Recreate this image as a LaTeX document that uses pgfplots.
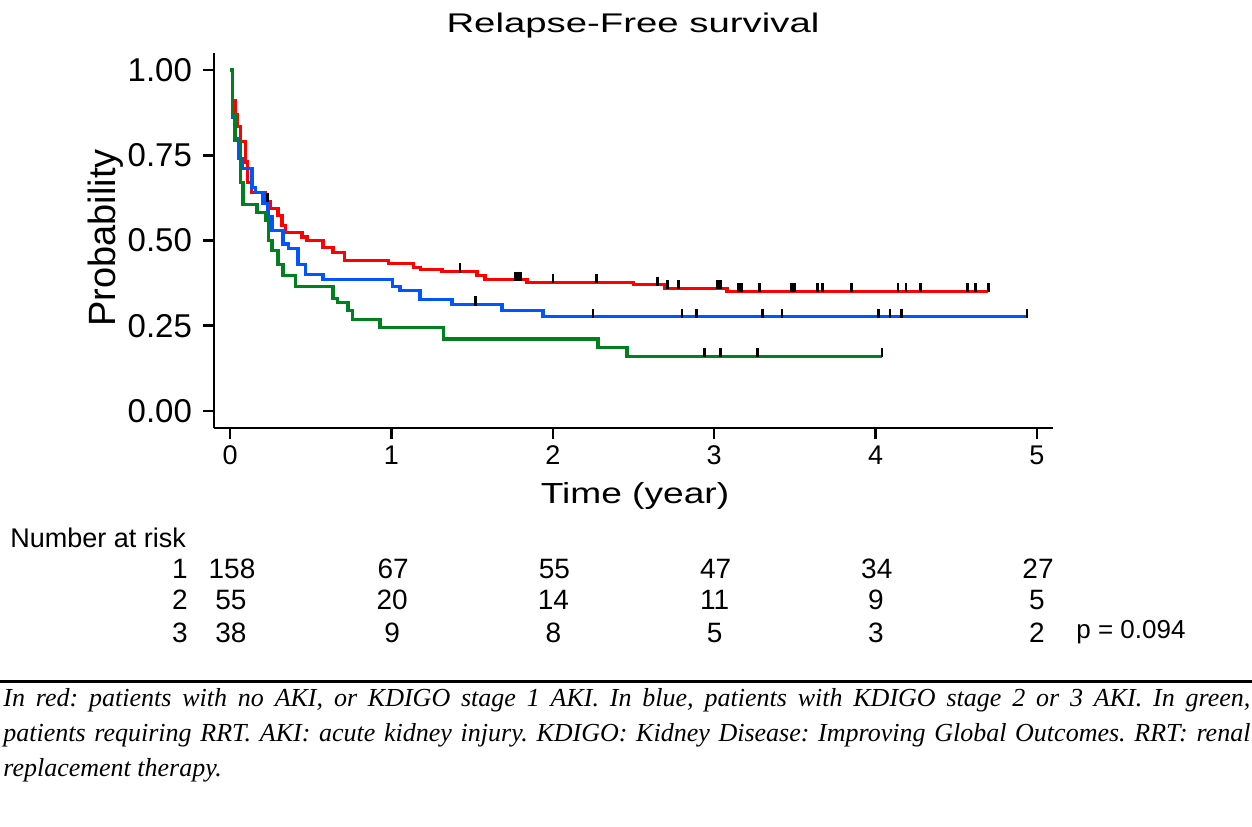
\documentclass[border=0pt]{standalone}
\usepackage{fontspec}
\setmainfont{Liberation Sans}
\newfontfamily\capfont{Liberation Serif}
\usepackage{pgfplots}
\usepackage{pgfplotstable}
\pgfplotsset{compat=1.18}
\frenchspacing

\definecolor{kmred}{RGB}{255,0,0}
\definecolor{kmblue}{RGB}{0,85,255}
\definecolor{kmgreen}{RGB}{0,128,30}

% Kaplan-Meier steps (time in years, survival probability)
\pgfplotstableread{
t p
0 1.0
0.016 0.91
0.031 0.87
0.046 0.834
0.062 0.79
0.093 0.73
0.11 0.67
0.13 0.64
0.217 0.615
0.25 0.595
0.297 0.573
0.322 0.544
0.341 0.524
0.446 0.51
0.476 0.50
0.576 0.48
0.638 0.465
0.71 0.441
0.98 0.432
1.136 0.42
1.18 0.415
1.313 0.409
1.53 0.397
1.58 0.385
1.84 0.377
2.50 0.370
2.695 0.360
3.08 0.351
4.70 0.351
}\redsteps

\pgfplotstableread{
t p
0.23 0.615
1.425 0.409
1.77 0.385
1.78 0.385
1.80 0.385
2.00 0.377
2.27 0.377
2.65 0.370
2.71 0.360
2.78 0.360
3.02 0.360
3.04 0.360
3.15 0.351
3.17 0.351
3.28 0.351
3.48 0.351
3.49 0.351
3.50 0.351
3.64 0.351
3.67 0.351
3.85 0.351
4.14 0.351
4.19 0.351
4.28 0.351
4.57 0.351
4.62 0.351
4.70 0.351
}\redcens

\pgfplotstableread{
t p
0 1.0
0.016 0.86
0.03 0.80
0.05 0.74
0.074 0.712
0.136 0.655
0.155 0.64
0.204 0.61
0.235 0.57
0.26 0.53
0.328 0.49
0.36 0.476
0.421 0.43
0.465 0.40
0.576 0.385
1.004 0.365
1.053 0.353
1.177 0.328
1.375 0.312
1.685 0.294
1.939 0.276
4.94 0.276
}\bluesteps

\pgfplotstableread{
t p
1.52 0.312
2.25 0.276
2.80 0.276
2.89 0.276
3.30 0.276
3.42 0.276
4.02 0.276
4.09 0.276
4.16 0.276
4.94 0.276
}\bluecens

\pgfplotstableread{
t p
0 1.0
0.017 0.87
0.03 0.794
0.062 0.67
0.08 0.606
0.167 0.583
0.217 0.56
0.236 0.50
0.26 0.47
0.297 0.43
0.328 0.397
0.403 0.366
0.638 0.33
0.665 0.318
0.731 0.295
0.76 0.268
0.929 0.244
1.32 0.211
2.28 0.186
2.46 0.160
4.04 0.160
}\greensteps

\pgfplotstableread{
t p
2.94 0.16
3.04 0.16
3.27 0.16
4.04 0.16
}\greencens

\begin{document}
\begin{tikzpicture}
\useasboundingbox (0pt,0pt) rectangle (626pt,413pt);

\begin{axis}[
    at={(107pt,199pt)}, anchor=south west,
    scale only axis, width=419.5pt, height=187.5pt,
    xmin=-0.1, xmax=5.1, ymin=-0.05, ymax=1.05,
    axis lines*=left, axis line style={-, line width=1.3pt},
    xtick={0,1,2,3,4,5},
    ytick={0,0.25,0.5,0.75,1},
    yticklabels={0.00,0.25,0.50,0.75,1.00},
    tick align=outside, major tick length=5.5pt,
    tick style={black, line width=1.3pt},
    xticklabel style={font=\fontsize{13.5}{16}\selectfont},
    yticklabel style={font=\fontsize{16.5}{19}\selectfont, xshift=-2pt},
    /pgf/number format/assume math mode=true,
    clip=false,
    km/.style={const plot, line width=1.6pt},
    censor/.style={only marks, mark=|, black, mark size=2.3pt,
        mark options={line width=1.3pt, yshift=1.8pt}},
]
\addplot[km, kmred] table {\redsteps};
\addplot[km, kmblue] table {\bluesteps};
\addplot[km, kmgreen] table {\greensteps};
\addplot[censor] table {\redcens};
\addplot[censor] table {\bluecens};
\addplot[censor] table {\greencens};
\end{axis}

\begin{scope}[x=0.5pt,y=0.5pt]
\node[anchor=base, xscale=1.42, inner sep=0pt, font=\fontsize{13.5}{16}\selectfont] at (633,793) {Relapse-Free survival};
\node[anchor=base, xscale=1.28, inner sep=0pt, font=\fontsize{14.5}{17}\selectfont] at (635,323) {Time (year)};
\node[anchor=base, rotate=90, inner sep=0pt, font=\fontsize{19}{21}\selectfont] at (115,588) {Probability};

% number at risk
\begin{scope}[font=\fontsize{14}{16}\selectfont]
\node[anchor=base west, inner sep=0pt, font=\fontsize{13.5}{16}\selectfont] at (10,279) {Number at risk};
\node[anchor=base east, inner sep=0pt] at (188,248) {1};
\node[anchor=base east, inner sep=0pt] at (188,217) {2};
\node[anchor=base east, inner sep=0pt] at (188,184) {3};
\foreach \n [count=\i from 0] in {158,67,55,47,34,27}
  \node[anchor=base, inner sep=0pt] at ({232+161.2*\i},248) {\n};
\foreach \n [count=\i from 0] in {55,20,14,11,9,5}
  \node[anchor=base, inner sep=0pt] at ({231+161.2*\i},217) {\n};
\foreach \n [count=\i from 0] in {38,9,8,5,3,2}
  \node[anchor=base, inner sep=0pt] at ({231+161.2*\i},184) {\n};
\node[anchor=base west, inner sep=0pt, font=\fontsize{13}{16}\selectfont] at (1076,188) {p = 0.094};
\end{scope}

% caption
\draw[line width=1.5pt] (0,145) -- (1252,145);
\begin{scope}[every node/.style={anchor=base west, inner sep=0pt, font=\capfont\itshape\fontsize{13}{16}\selectfont}]
\node at (3,120) {\makebox[623.5pt][s]{In red: patients with no AKI, or KDIGO stage 1 AKI. In blue, patients with KDIGO stage 2 or 3 AKI. In green,}};
\node at (3,85) {\makebox[623.5pt][s]{patients requiring RRT. AKI: acute kidney injury. KDIGO: Kidney Disease: Improving Global Outcomes. RRT: renal}};
\node at (3,50) {replacement therapy.};
\end{scope}
\end{scope}
\end{tikzpicture}
\end{document}
